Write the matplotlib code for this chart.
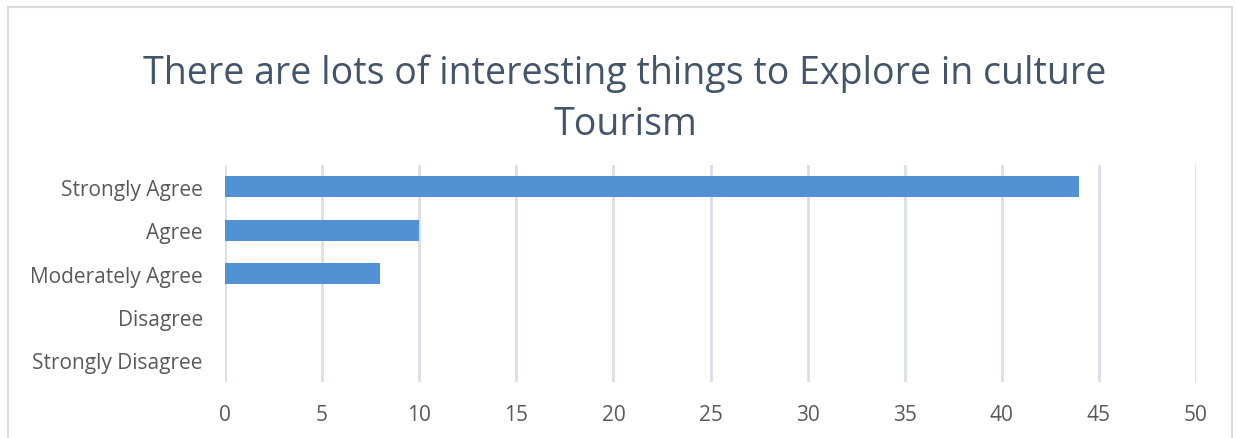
import matplotlib
matplotlib.use("Agg")
import matplotlib.pyplot as plt
from matplotlib.patches import Rectangle

categories = ["Strongly Agree", "Agree", "Moderately Agree", "Disagree", "Strongly Disagree"]
values = [44, 10, 8, 0, 0]
xticks = [0, 5, 10, 15, 20, 25, 30, 35, 40, 45, 50]
title = "There are lots of interesting things to Explore in culture\nTourism"

plt.rcParams['font.family'] = ['Open Sans', 'DejaVu Sans']

W, H = 1236, 439
fig = plt.figure(figsize=(W / 100, H / 100), dpi=100)
fig.patch.set_facecolor('white')

# outer chart frame
fig.patches.append(Rectangle((8 / W, -0.1), (1232 - 8) / W, 1.1 - 8 / H,
                             transform=fig.transFigure, fill=False,
                             edgecolor='#D9D9D9', linewidth=1.5))

ax = fig.add_axes([225 / W, 1 - 383 / H, (1196 - 225) / W, (383 - 166) / H])
ypos = list(range(len(categories)))
ax.barh(ypos, values, height=0.48, color='#5292D4', edgecolor='none', zorder=3)
ax.set_ylim(len(categories) - 0.5, -0.5)
ax.set_xlim(0, 50)
ax.set_xticks(xticks)
ax.set_yticks(ypos)
ax.set_yticklabels(categories, fontsize=15, color='#595959', fontstretch='semi-condensed')
ax.set_xticklabels([str(t) for t in xticks], fontsize=15, color='#595959', fontstretch='semi-condensed')
ax.tick_params(axis='both', length=0)
ax.tick_params(axis='y', pad=16)
ax.tick_params(axis='x', pad=16)
ax.grid(axis='x', color='#D9DEE8', linewidth=2, zorder=0)
for s in ax.spines.values():
    s.set_visible(False)

fig.text(625 / W, 1 - 99 / H, title, ha='center', va='center', fontsize=27,
         color='#44546A', linespacing=1.45, fontstretch='semi-condensed')

fig.savefig('out.png', dpi=100)
